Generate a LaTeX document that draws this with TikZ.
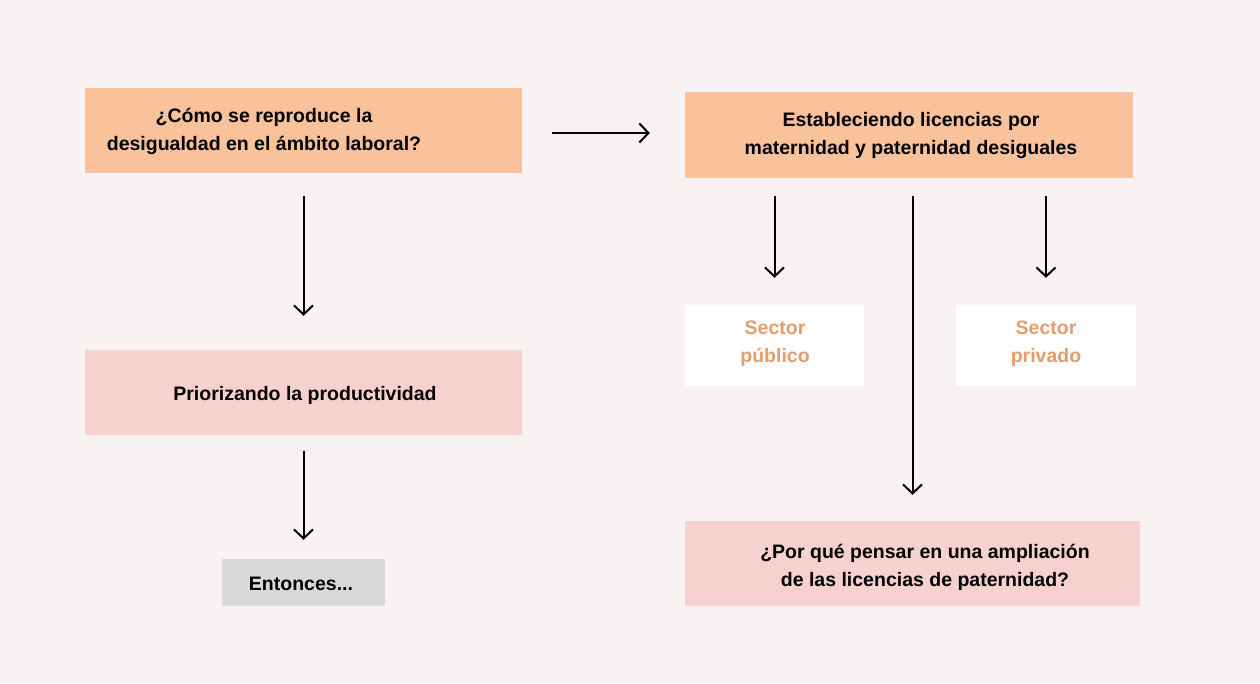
\documentclass[tikz,border=0pt]{standalone}
\usepackage{fontspec}
\setmainfont{Liberation Sans}
\usetikzlibrary{arrows.meta}
\definecolor{bg}{HTML}{F8F2F2}
\definecolor{peach}{HTML}{F9C29A}
\definecolor{pinkbox}{HTML}{F7D0D0}
\definecolor{graybox}{HTML}{D9D9D9}
\definecolor{orangetext}{HTML}{E39D6E}
\tikzset{
  box/.style={rectangle, inner sep=0pt, draw=none},
  txt/.style={align=center, inner sep=0pt, font=\bfseries\fontsize{19.5}{28}\selectfont, text=black},
  conn/.style={line width=2pt, black, -{Straight Barb[length=9pt,width=19pt]}},
}
\begin{document}
\begin{tikzpicture}[x=1pt,y=-1pt]
\useasboundingbox (0,0) rectangle (1260,683);
\fill[bg] (0,0) rectangle (1260,683);
% boxes
\node[box, fill=peach, minimum width=437pt, minimum height=85pt] (q1) at (303.5,130.5) {};
\node[txt] (q1t) at (264,131) {¿Cómo se reproduce la\\desigualdad en el ámbito laboral?};
\node[box, fill=peach, minimum width=448pt, minimum height=86pt] (q2) at (909,135) {};
\node[txt] (q2t) at (911,135) {Estableciendo licencias por\\maternidad y paternidad desiguales};
\node[box, fill=pinkbox, minimum width=437pt, minimum height=85pt] (p) at (303.5,392.5) {};
\node[txt] (pt) at (305,395) {Priorizando la productividad};
\node[box, fill=graybox, minimum width=163pt, minimum height=47pt] (e) at (303.5,582.5) {};
\node[txt] (et) at (301,584) {Entonces...};
\node[box, fill=white, minimum width=179pt, minimum height=81pt] (pub) at (774.5,345.5) {};
\node[txt, text=orangetext] (pubt) at (775,344) {Sector\\público};
\node[box, fill=white, minimum width=180pt, minimum height=81pt] (priv) at (1046,345.5) {};
\node[txt, text=orangetext] (privt) at (1046,344) {Sector\\privado};
\node[box, fill=pinkbox, minimum width=455pt, minimum height=85pt] (last) at (912.5,563.5) {};
\node[txt] (lastt) at (925,567) {¿Por qué pensar en una ampliación\\de las licencias de paternidad?};
% connectors
\draw[conn, shorten <=30pt, shorten >=35pt] ([yshift=-2.5pt]q1.east) -- ([yshift=2pt]q2.west);
\draw[conn, shorten <=23pt, shorten >=34pt] (q1.south) -- (p.north);
\draw[conn, shorten <=16pt, shorten >=19pt] (p.south) -- (e.north);
\draw[conn, shorten <=18pt, shorten >=27pt] (q2.south -| pub.north) -- (pub.north);
\draw[conn, shorten <=18pt, shorten >=27pt] (q2.south -| priv.north) -- (priv.north);
\draw[conn, shorten <=18pt, shorten >=26pt] (q2.south -| last.north) -- (last.north);
\end{tikzpicture}
\end{document}
